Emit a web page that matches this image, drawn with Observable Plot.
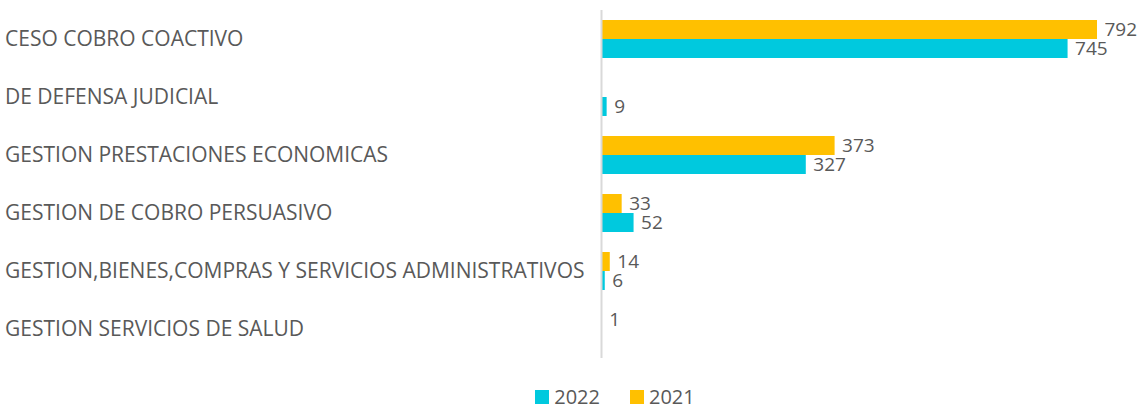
<!DOCTYPE html>
<html>
<head>
<meta charset="utf-8">
<script src="https://cdn.jsdelivr.net/npm/d3@7"></script>
<script src="https://cdn.jsdelivr.net/npm/@observablehq/plot@0.6"></script>
<style>
  html, body { margin: 0; background: #fff; font-family: "Open Sans", sans-serif; overflow: hidden; }
  #chart { height: 372px; }
  #legend { position: absolute; top: 386px; left: 0; width: 1145px; box-sizing: border-box; padding-left: 85px; display: flex; justify-content: center; gap: 30px; height: 22px; align-items: center; color: #595959; font-size: 20px; line-height: 22px; }
  #legend span.item { display: flex; align-items: center; gap: 5px; }
  #legend span.sw { width: 14px; height: 14px; display: inline-block; }
</style>
</head>
<body>
<div id="chart"></div>
<div id="legend"></div>
<script>
const categories = [
  "CESO COBRO COACTIVO",
  "DE DEFENSA JUDICIAL",
  "GESTION PRESTACIONES ECONOMICAS",
  "GESTION DE COBRO PERSUASIVO",
  "GESTION,BIENES,COMPRAS Y SERVICIOS ADMINISTRATIVOS",
  "GESTION SERVICIOS DE SALUD"
];
const years = ["2022", "2021"];
const values2022 = [745, 9, 327, 52, 6, null];
const values2021 = [792, null, 373, 33, 14, 1];
const colors = ["#00C9DE", "#FFC000"];

const data = [];
categories.forEach((c, i) => {
  if (values2021[i] != null) data.push({cat: c, year: "2021", value: values2021[i]});
  if (values2022[i] != null) data.push({cat: c, year: "2022", value: values2022[i]});
});

const chart = Plot.plot({
  width: 1145,
  height: 372,
  marginLeft: 601,
  marginRight: 48,
  marginTop: 10,
  marginBottom: 14,
  style: {fontFamily: "Open Sans, sans-serif", color: "#595959", overflow: "visible"},
  x: {domain: [0, 792], axis: null},
  y: {domain: ["2021", "2022"], axis: null, paddingInner: 0, paddingOuter: 0.526},
  fy: {domain: categories, padding: 0, label: null},
  color: {domain: years, range: colors},
  marks: [
    Plot.axisFy({anchor: "left", tickSize: 0, tickPadding: 0, textAnchor: "start", dx: -596.5, fontSize: 21, fill: "#595959", label: null}),
    Plot.barX(data, {fy: "cat", y: "year", x: "value", fill: "year"}),
    Plot.ruleX([0], {stroke: "#d9d9d9", strokeWidth: 2}),
    Plot.text(data, {fy: "cat", y: "year", x: "value", text: d => String(d.value), textAnchor: "start", dx: 7, fill: "#595959", fontSize: 19})
  ]
});
document.getElementById("chart").appendChild(chart);

const legend = document.getElementById("legend");
years.forEach((y, i) => {
  const item = document.createElement("span");
  item.className = "item";
  const sw = document.createElement("span");
  sw.className = "sw";
  sw.style.background = colors[i];
  item.appendChild(sw);
  item.appendChild(document.createTextNode(y));
  legend.appendChild(item);
});
</script>
</body>
</html>
